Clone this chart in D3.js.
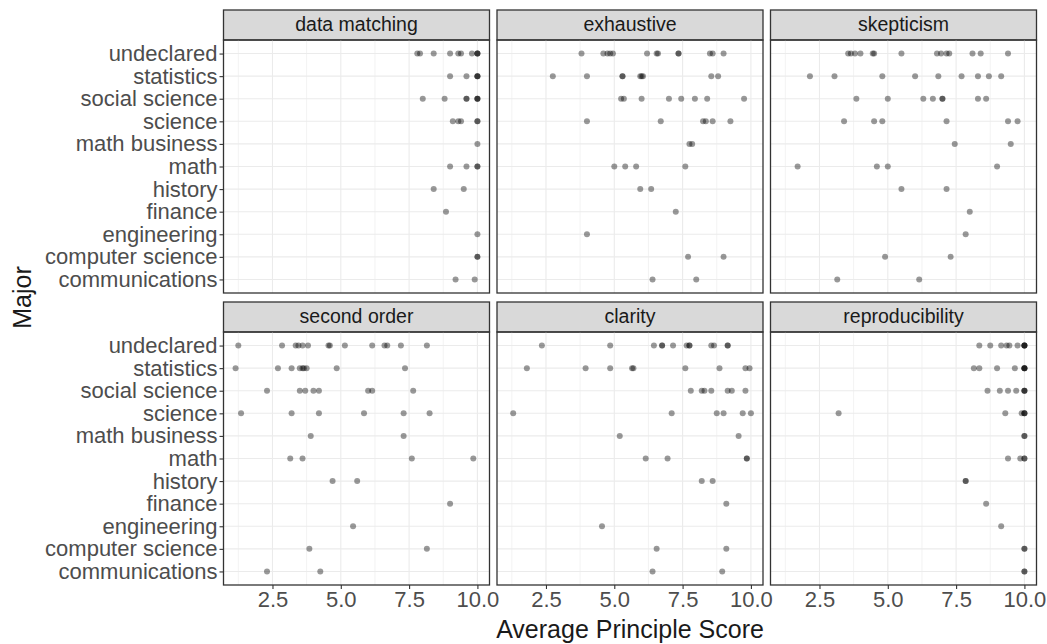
<!DOCTYPE html>
<html>
<head>
<meta charset="utf-8">
<script src="https://cdn.jsdelivr.net/npm/d3@7"></script>
<style>
    body { margin: 0; background: #ffffff; }
    text { font-family: "Liberation Sans", Arial, sans-serif; }
</style>
</head>
<body>
<div id="chart"></div>
<script>
// Majors, bottom to top (ggplot factor order)
var majors = ["communications", "computer science", "engineering", "finance", "history",
              "math", "math business", "science", "social science", "statistics", "undeclared"];

var principles = ["data matching", "exhaustive", "skepticism", "second order", "clarity", "reproducibility"];

var xTicks = [2.5, 5.0, 7.5, 10.0];
var xMinorTicks = [1.25, 3.75, 6.25, 8.75];

// One list of scores per major, same order as majors
var dataMatching = [
    [9.2, 9.9],
    [10, 10],
    [10],
    [8.85],
    [8.4, 9.5],
    [9.0, 9.6, 10, 10],
    [10],
    [9.1, 9.3, 9.4, 10, 10],
    [8.0, 8.8, 9.6, 9.6, 10, 10, 10],
    [9.0, 9.6, 10, 10, 10],
    [7.8, 7.9, 8.4, 9.0, 9.3, 9.4, 9.8, 10, 10, 10]
];

var exhaustive = [
    [6.4, 8.0],
    [7.7, 9.0],
    [4.0],
    [7.25],
    [5.95, 6.35],
    [5.0, 5.4, 5.8, 7.6],
    [7.75, 7.85],
    [4.0, 6.7, 8.25, 8.35, 8.6, 9.25],
    [5.25, 5.35, 6.0, 7.0, 7.45, 7.95, 8.4, 9.75],
    [2.75, 4.0, 5.3, 5.3, 5.95, 6.0, 6.05, 8.55, 8.8],
    [3.8, 4.6, 4.75, 4.85, 4.95, 6.2, 6.55, 6.6, 7.35, 7.35, 8.5, 8.6, 9.0]
];

var skepticism = [
    [3.15, 6.15],
    [4.9, 7.3],
    [7.85],
    [8.0],
    [5.5, 7.15],
    [1.7, 4.6, 5.0, 9.0],
    [7.45, 9.5],
    [3.4, 4.5, 4.8, 7.15, 9.4, 9.75],
    [3.85, 5.0, 6.3, 6.65, 7.0, 7.0, 8.3, 8.6],
    [2.15, 3.05, 4.8, 6.0, 6.85, 7.7, 8.3, 8.7, 9.15],
    [3.55, 3.65, 3.8, 4.0, 4.45, 4.5, 5.5, 6.8, 6.95, 7.15, 7.25, 8.1, 8.4, 9.4]
];

var secondOrder = [
    [2.3, 4.25],
    [3.85, 8.15],
    [5.45],
    [9.0],
    [4.7, 5.6],
    [3.15, 3.6, 7.6, 9.85],
    [3.9, 7.3],
    [1.35, 3.2, 4.2, 5.85, 7.3, 8.25],
    [2.3, 3.5, 3.7, 4.0, 4.2, 6.0, 6.15, 7.65],
    [1.15, 2.7, 3.2, 3.5, 3.6, 3.65, 3.75, 4.85, 7.35],
    [1.25, 2.85, 3.35, 3.45, 3.6, 3.8, 4.55, 4.6, 5.15, 6.15, 6.6, 6.7, 7.2, 8.15]
];

var clarity = [
    [6.4, 8.95],
    [6.55, 9.1],
    [4.55],
    [9.1],
    [8.2, 8.6],
    [6.15, 6.95, 9.85, 9.85],
    [5.2, 9.55],
    [1.3, 7.1, 8.75, 9.0, 9.7, 10.0],
    [7.8, 8.2, 8.3, 8.55, 9.15, 9.3, 9.8],
    [1.8, 3.95, 4.85, 5.65, 5.7, 7.6, 8.85, 9.8, 9.95],
    [2.35, 4.85, 6.45, 6.75, 6.75, 7.15, 7.65, 7.75, 7.75, 8.55, 8.65, 9.15, 9.15]
];

var reproducibility = [
    [10, 10],
    [10, 10],
    [9.15],
    [8.6],
    [7.85, 7.85],
    [9.4, 9.85, 10, 10],
    [10, 10],
    [3.2, 9.3, 9.9, 10, 10, 10],
    [8.65, 9.1, 9.4, 9.7, 10, 10, 10],
    [8.15, 8.35, 9.0, 9.65, 10, 10, 10, 10],
    [8.35, 8.75, 9.15, 9.35, 9.45, 9.75, 10, 10, 10, 10]
];

var panelValues = [dataMatching, exhaustive, skepticism, secondOrder, clarity, reproducibility];

// Layout
var width = 1047, height = 644;
var marginLeft = 223.5, marginTop = 10;
var panelW = 266, panelH = 253, stripH = 30;
var gapX = 7.5, gapY = 9;

var svg = d3.select("#chart").append("svg")
    .attr("width", width)
    .attr("height", height);

// Long format rows
var points = [];
panelValues.forEach(function(list, p){
    list.forEach(function(scores, m){
        scores.forEach(function(v){
            points.push({panel: p, major: majors[m], score: v});
        });
    });
});

// x scale with ggplot's 5% expansion
var ext = d3.extent(points, function(d){ return d.score; });
var pad = (ext[1] - ext[0]) * 0.05;
var x = d3.scaleLinear().domain([ext[0] - pad, ext[1] + pad]).range([0, panelW]);
var y = d3.scalePoint().domain(majors).range([panelH, 0]).padding(0.6);

principles.forEach(function(name, p){
    var col = p % 3, row = Math.floor(p / 3);
    var px = marginLeft + col * (panelW + gapX);
    var py = marginTop + row * (stripH + panelH + gapY);

    // strip
    var strip = svg.append("g").attr("transform", "translate(" + px + "," + py + ")");
    strip.append("rect")
        .attr("width", panelW).attr("height", stripH)
        .attr("fill", "#d9d9d9").attr("stroke", "#333333").attr("stroke-width", 1.3);
    strip.append("text")
        .attr("x", panelW / 2).attr("y", 21)
        .style("text-anchor", "middle")
        .style("font-size", "19.5px")
        .attr("fill", "#1a1a1a")
        .text(name);

    var g = svg.append("g").attr("transform", "translate(" + px + "," + (py + stripH) + ")");

    // grid
    g.selectAll(".minor").data(xMinorTicks).enter().append("line")
        .attr("class", "minor")
        .attr("x1", function(d){ return x(d); }).attr("x2", function(d){ return x(d); })
        .attr("y1", 0).attr("y2", panelH)
        .attr("stroke", "#ebebeb").attr("stroke-width", 0.6);
    g.selectAll(".majorx").data(xTicks).enter().append("line")
        .attr("class", "majorx")
        .attr("x1", function(d){ return x(d); }).attr("x2", function(d){ return x(d); })
        .attr("y1", 0).attr("y2", panelH)
        .attr("stroke", "#ebebeb").attr("stroke-width", 1.1);
    g.selectAll(".majory").data(majors).enter().append("line")
        .attr("class", "majory")
        .attr("x1", 0).attr("x2", panelW)
        .attr("y1", function(d){ return y(d); }).attr("y2", function(d){ return y(d); })
        .attr("stroke", "#ebebeb").attr("stroke-width", 1.1);

    // points
    g.selectAll("circle")
        .data(points.filter(function(d){ return d.panel == p; }))
        .enter().append("circle")
        .attr("r", 3)
        .attr("cx", function(d){ return x(d.score); })
        .attr("cy", function(d){ return y(d.major); })
        .attr("fill", "#000000")
        .attr("fill-opacity", 0.4);

    // border
    g.append("rect")
        .attr("width", panelW).attr("height", panelH)
        .attr("fill", "none").attr("stroke", "#333333").attr("stroke-width", 1.3);

    // y axis on left column
    if (col == 0){
        var ya = g.append("g")
            .call(d3.axisLeft(y).tickSize(4).tickPadding(2));
        ya.select(".domain").remove();
        ya.selectAll("line").attr("stroke", "#333333").attr("stroke-width", 1.1);
        ya.selectAll("text")
            .attr("fill", "#4d4d4d")
            .style("font-size", "22px")
            .style("font-family", "'Liberation Sans', Arial, sans-serif");
    }

    // x axis on bottom row
    if (row == 1){
        var xa = g.append("g")
            .attr("transform", "translate(0," + panelH + ")")
            .call(d3.axisBottom(x).tickValues(xTicks).tickFormat(d3.format(".1f")).tickSize(4).tickPadding(2));
        xa.select(".domain").remove();
        xa.selectAll("line").attr("stroke", "#333333").attr("stroke-width", 1.1);
        xa.selectAll("text")
            .attr("fill", "#4d4d4d")
            .style("font-size", "22px")
            .style("font-family", "'Liberation Sans', Arial, sans-serif");
    }
});

// axis titles
var plotRight = marginLeft + 3 * panelW + 2 * gapX;
var plotBottom = marginTop + 2 * (stripH + panelH) + gapY;

svg.append("text")
    .attr("x", (marginLeft + plotRight) / 2)
    .attr("y", 638)
    .style("text-anchor", "middle")
    .style("font-size", "25px")
    .attr("fill", "#1a1a1a")
    .text("Average Principle Score");

svg.append("text")
    .attr("transform", "rotate(-90)")
    .attr("x", 0 - (marginTop + plotBottom) / 2)
    .attr("y", 31)
    .style("text-anchor", "middle")
    .style("font-size", "25px")
    .attr("fill", "#1a1a1a")
    .text("Major");
</script>
</body>
</html>
